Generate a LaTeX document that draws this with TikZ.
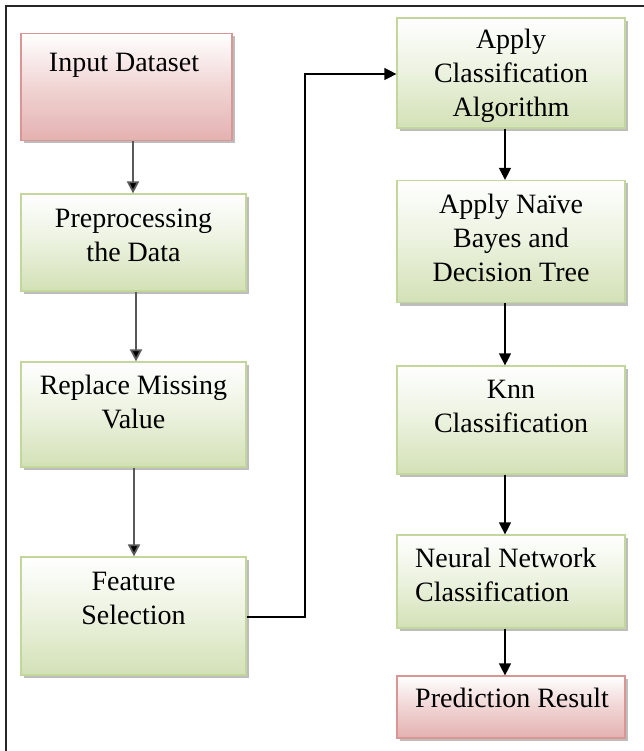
\documentclass[tikz,border=0pt]{standalone}
\usepackage{fontspec}
\newfontfamily\boxfont{Liberation Serif}
\usetikzlibrary{arrows.meta,shadows}
\definecolor{gbord}{HTML}{C3D69B}
\definecolor{gfill}{HTML}{D3E1B6}
\definecolor{rbord}{HTML}{D99694}
\definecolor{rfill}{HTML}{E4B1B0}
\definecolor{shad}{HTML}{BDBDBD}
\tikzset{
  boxbase/.style={rectangle, line width=1.2pt, inner sep=0pt,
    drop shadow={shadow xshift=2.5pt, shadow yshift=-3pt, opacity=1, fill=shad}},
  greenbox/.style={boxbase, draw=gbord, top color=white, bottom color=gfill, middle color=gfill!45},
  redbox/.style={boxbase, draw=rbord, top color=white, bottom color=rfill, middle color=rfill!55},
  txt/.style={font=\boxfont\fontsize{28}{34}\selectfont, align=center, inner sep=0pt, text=black},
  ltxt/.style={font=\boxfont\fontsize{28}{34}\selectfont, align=left, inner sep=0pt, text=black, anchor=west},
  larr/.style={line width=1.8pt, draw=black!65, -{Triangle[width=12pt,length=12pt,fill=black]}},
  rarr/.style={line width=1.2pt, draw=black, -{Triangle[width=12pt,length=12pt]}},
  frame/.style={line width=1.8pt, draw=black!85}
}
\begin{document}
\begin{tikzpicture}[x=1pt,y=-1pt]
\useasboundingbox (0,0) rectangle (644,751);
\draw[frame] (6,751) -- (6,6) -- (644,6);
% left column boxes
\node[redbox, minimum width=211pt, minimum height=107pt] (input) at (126.5,87) {};
\node[greenbox, minimum width=225pt, minimum height=97pt] (pre) at (133.5,242.5) {};
\node[greenbox, minimum width=225pt, minimum height=105pt] (rep) at (133.5,414.5) {};
\node[greenbox, minimum width=225pt, minimum height=118pt] (feat) at (133.5,616) {};
% right column boxes
\node[greenbox, minimum width=228pt, minimum height=110pt] (apply) at (511,73) {};
\node[greenbox, minimum width=228pt, minimum height=122pt] (naive) at (511,241.5) {};
\node[greenbox, minimum width=228pt, minimum height=108pt] (knn) at (511,420) {};
\node[greenbox, minimum width=228pt, minimum height=93pt] (nn) at (511,581.5) {};
\node[redbox, minimum width=228pt, minimum height=62pt] (pred) at (511,707) {};
% texts
\node[txt] (tinput) at (124,65) {Input Dataset};
\node[txt] (tpre) at (133.5,235) {Preprocessing\\the Data};
\node[txt] (trep) at (133.5,402) {Replace Missing\\Value};
\node[txt] (tfeat) at (133.5,598) {Feature\\Selection};
\node[txt] (tapply) at (511,76) {Apply\\Classification\\Algorithm};
\node[txt] (tnaive) at (511,238) {Apply Naïve\\Bayes and\\Decision Tree};
\node[txt] (tknn) at (511,406) {Knn\\Classification};
\node[ltxt] (tnn) at (415,575) {Neural Network\\Classification};
\node[ltxt] (tpred) at (415,698) {Prediction Result};
% connectors
\coordinate (c1) at (305,617);
\coordinate (c2) at (305,74);
\draw[larr] ([xshift=6.5pt]input.south) -- ([xshift=-0.5pt]pre.north);
\draw[larr] ([xshift=2.5pt]pre.south) -- ([xshift=2.5pt]rep.north);
\draw[larr] ([xshift=0.5pt]rep.south) -- ([xshift=0.5pt]feat.north);
\draw[rarr] ([yshift=-1pt]feat.east) -- (c1) -- (c2) -- ([yshift=-1pt]apply.west);
\draw[rarr] ([xshift=-6pt]apply.south) -- ([xshift=-6pt]naive.north);
\draw[rarr] ([xshift=-6pt]naive.south) -- ([xshift=-6pt]knn.north);
\draw[rarr] ([xshift=-6pt]knn.south) -- ([xshift=-6pt]nn.north);
\draw[rarr] ([xshift=-6pt]nn.south) -- ([xshift=-6pt]pred.north);
\end{tikzpicture}
\end{document}
